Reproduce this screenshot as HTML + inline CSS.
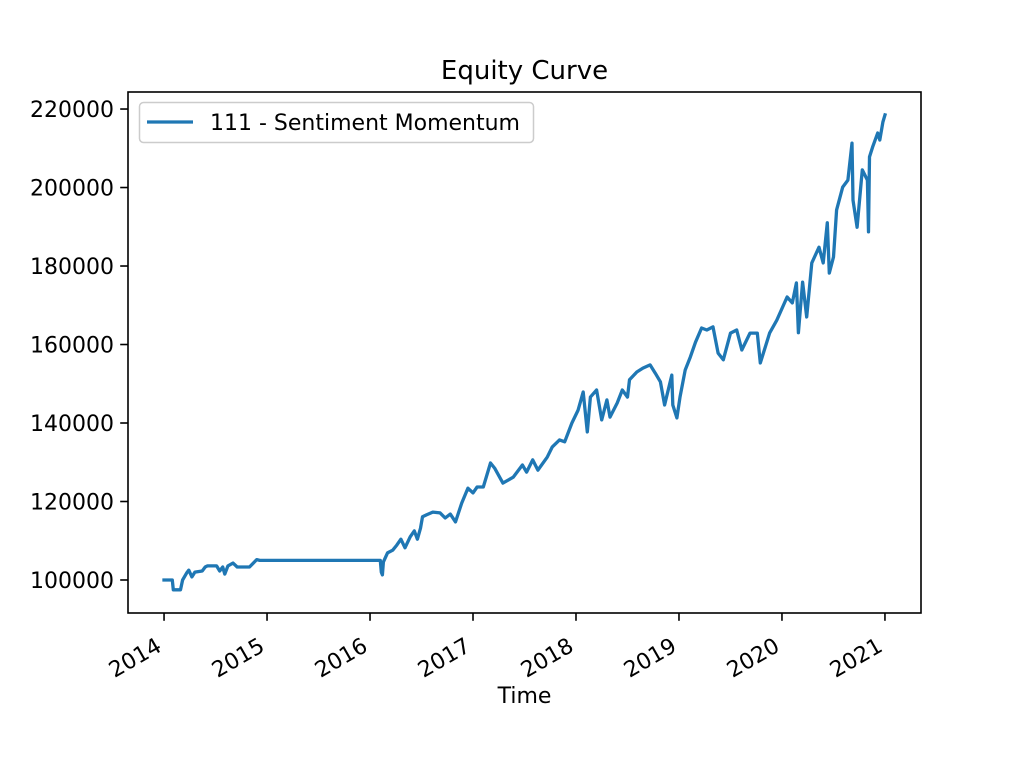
<!DOCTYPE html>
<html><head><meta charset="utf-8"><style>
html,body{margin:0;padding:0;background:#fff;}
svg{display:block;font-family:"DejaVu Sans","Liberation Sans",sans-serif;}
</style></head><body>
<svg id="chart" width="1024" height="768" viewBox="0 0 1024 768" xmlns="http://www.w3.org/2000/svg">
<rect width="1024" height="768" fill="#fff"/>
<text x="524.5" y="79" font-size="26" text-anchor="middle" fill="#000">Equity Curve</text>
<g id="axes"></g>
<text x="524.5" y="703" font-size="22" text-anchor="middle" fill="#000">Time</text>
<g>
<rect x="139.5" y="102.5" width="394" height="40" rx="4" fill="#fff" fill-opacity="0.8" stroke="#cccccc" stroke-width="1.5"/>
<line x1="147" y1="122" x2="193" y2="122" stroke="#1f77b4" stroke-width="3.3"/>
<text x="210" y="130" font-size="22" fill="#000">111 - Sentiment Momentum</text>
</g>
</svg>
<script>
// decimal years since 2014-01-01
const dates = [0,0.08,0.09,0.16,0.18,0.22,0.24,0.27,0.30,0.37,0.40,0.42,0.51,0.54,0.57,0.59,0.62,0.67,0.71,0.83,0.90,0.93,2.10,2.11,2.12,2.13,2.17,2.22,2.26,2.30,2.34,2.39,2.43,2.46,2.49,2.51,2.55,2.61,2.68,2.73,2.78,2.83,2.89,2.95,3.00,3.04,3.10,3.17,3.21,3.29,3.39,3.48,3.52,3.58,3.63,3.72,3.77,3.84,3.89,3.96,4.02,4.07,4.11,4.14,4.20,4.25,4.30,4.33,4.40,4.45,4.50,4.52,4.59,4.65,4.72,4.77,4.82,4.86,4.93,4.94,4.98,5.01,5.06,5.11,5.16,5.22,5.27,5.33,5.38,5.43,5.50,5.56,5.61,5.69,5.76,5.79,5.88,5.95,6.05,6.10,6.14,6.16,6.20,6.24,6.29,6.36,6.40,6.44,6.46,6.50,6.53,6.59,6.64,6.68,6.69,6.73,6.78,6.83,6.84,6.85,6.88,6.93,6.95,6.98,7.0];
const equity = [100000,100000,97500,97500,100000,101800,102500,100800,102000,102300,103300,103600,103600,102300,103300,101500,103600,104300,103300,103300,105200,105000,105000,102000,101300,104600,106900,107600,108900,110400,108200,111000,112500,110400,113200,116100,116600,117300,117100,115800,116800,114800,119600,123400,122200,123700,123700,129800,128500,124700,126200,129300,127500,130600,128000,131300,133900,135700,135200,140000,143300,147900,137700,146600,148400,140800,145900,141500,145100,148400,146600,151000,153000,154000,154800,152700,150500,144600,152200,144600,141300,146600,153500,156800,160600,164200,163700,164500,157800,156100,162900,163700,158600,162900,162900,155300,162900,166200,172100,170600,175700,163000,175900,167000,180800,184800,180800,191000,178200,182300,194300,200100,201900,211300,196800,189900,204500,201900,188700,207800,210300,213900,212100,216700,218500];
const yTicks = [100000,120000,140000,160000,180000,200000,220000];
const xTicks = [2014,2015,2016,2017,2018,2019,2020,2021];

const L=128,R=921,T=92,B=613;
const xMin=-0.35,xMax=7.35,yMin=91590,yMax=224340;
const xs=t=>L+(t-xMin)/(xMax-xMin)*(R-L);
const ys=v=>B-(v-yMin)/(yMax-yMin)*(B-T);
const NS="http://www.w3.org/2000/svg";
const g=document.getElementById('axes');
function mk(tag,attrs){const e=document.createElementNS(NS,tag);for(const k in attrs)e.setAttribute(k,attrs[k]);return e;}

const line=mk('polyline',{points:dates.map((t,i)=>xs(t).toFixed(1)+','+ys(equity[i]).toFixed(1)).join(' '),fill:'none',stroke:'#1f77b4','stroke-width':3.3,'stroke-linejoin':'round','stroke-linecap':'square'});


g.appendChild(line);

const frame=mk('rect',{x:L,y:T,width:R-L,height:B-T,fill:'none',stroke:'#000','stroke-width':1.6});


g.appendChild(frame);

yTicks.forEach(v=>{
  const y=ys(v);
  const tk=mk('line',{x1:L-7.8,x2:L,y1:y,y2:y,stroke:'#000','stroke-width':1.6});
  
  
  g.appendChild(tk);
  const tx=mk('text',{x:L-14,y:y+8,'font-size':22,'text-anchor':'end',fill:'#000'});
  
  
  tx.textContent=v;
  g.appendChild(tx);
});
xTicks.forEach(yr=>{
  const x=xs(yr-2014);
  const tk=mk('line',{x1:x,x2:x,y1:B,y2:B+7.8,stroke:'#000','stroke-width':1.6});
  
  
  g.appendChild(tk);
  const tx=mk('text',{x:0,y:0,'font-size':22,'text-anchor':'end',fill:'#000',transform:`translate(${x-8},${B+25}) rotate(-30)`});
  
  
  tx.setAttribute('dy','14');
  tx.textContent=yr;
  g.appendChild(tx);
});
</script>
</body></html>
